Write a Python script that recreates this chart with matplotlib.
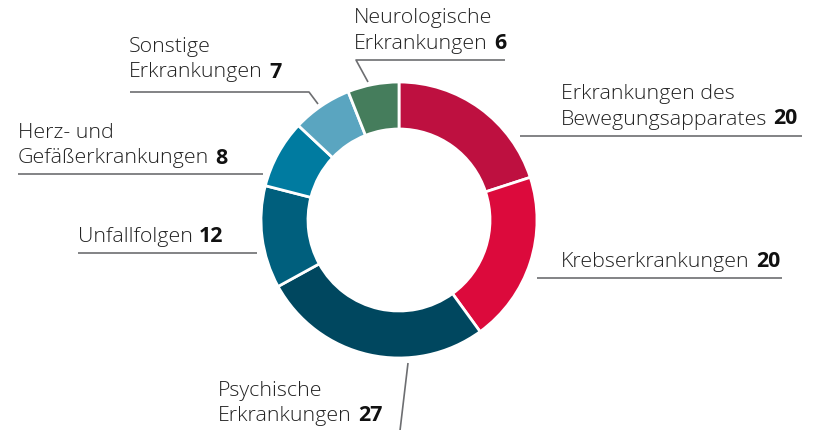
import matplotlib
matplotlib.use("Agg")
import matplotlib.pyplot as plt

# data
labels = [["Erkrankungen des", "Bewegungsapparates"],
          ["Krebserkrankungen"],
          ["Psychische", "Erkrankungen"],
          ["Unfallfolgen"],
          ["Herz- und", "Gefäßerkrankungen"],
          ["Sonstige", "Erkrankungen"],
          ["Neurologische", "Erkrankungen"]]
values = [20, 20, 27, 12, 8, 7, 6]
colors = ["#BE1040", "#DC0A3C", "#00475F", "#005F7D", "#007BA0", "#5AA5C0", "#457D5C"]

W, H = 816, 431
def py(y):
    return H - y

# label layout in pixels: text left x, top line y (center), leader polyline
label_pos = [(561, 94), (561, 262), (218, 391), (78, 237), (18, 133), (129, 47), (354, 18)]
leaders = [
    [(520, 137), (802, 137)],
    [(537, 279), (782, 279)],
    [(408, 364), (399, 440)],
    [(78, 254), (257, 254)],
    [(18, 175), (263, 175)],
    [(130, 93), (309, 93), (318, 105)],
    [(368, 83), (356, 61), (505, 61)],
]

plt.rcParams['font.family'] = ['Open Sans', 'DejaVu Sans']
fig = plt.figure(figsize=(W / 100, H / 100), dpi=100)
ax = fig.add_axes([0, 0, 1, 1])

ax.pie(values, colors=colors, startangle=90, counterclock=False,
       radius=138, center=(399, py(221)),
       wedgeprops=dict(width=47, edgecolor='white', linewidth=2))
ax.set_xlim(0, W)
ax.set_ylim(0, H)
ax.axis('off')

fs = 15.4
lh = 25.5
for lab, v, (x, y), pts in zip(labels, values, label_pos, leaders):
    for i, line in enumerate(lab):
        t = ax.text(x, py(y + i * lh), line, fontsize=fs, fontweight='light',
                    color='#222222', ha='left', va='center')
    ax.annotate(str(v), xy=(1, 0), xycoords=t, xytext=(4.5, 0),
                textcoords='offset points', fontsize=fs, fontweight='bold',
                color='#111111', ha='left', va='bottom')
    ax.plot([p[0] for p in pts], [py(p[1]) for p in pts], color='#6d6e71',
            lw=1.2, solid_capstyle='butt')

fig.savefig("out.png", dpi=100)
